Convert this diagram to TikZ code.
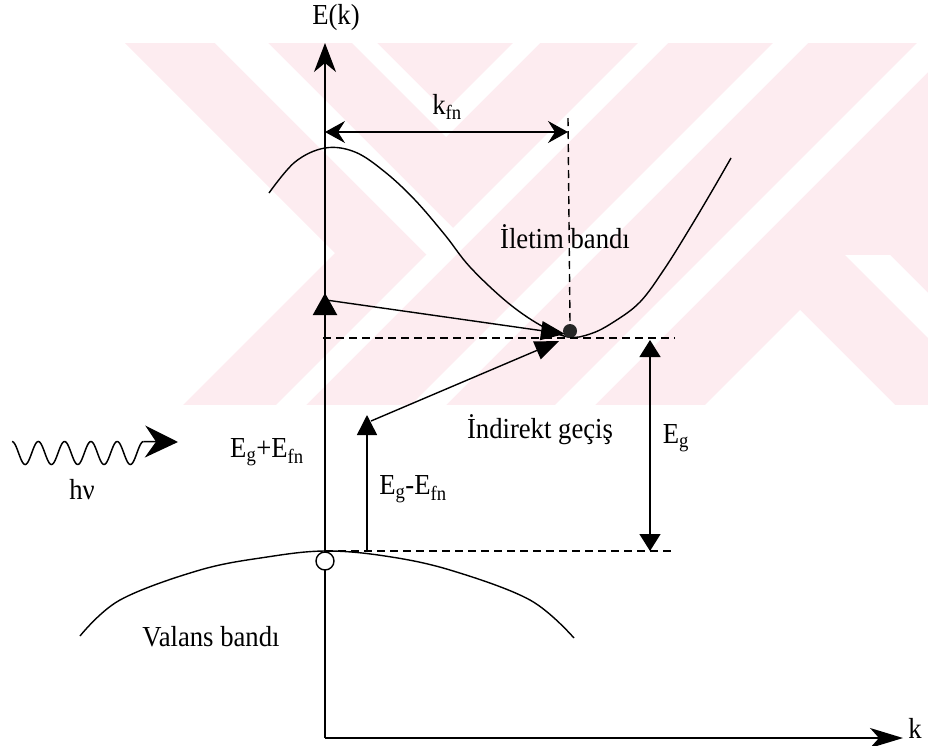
\documentclass[tikz,border=0pt]{standalone}
\usepackage{fontspec}
\setmainfont{Liberation Serif}[FakeStretch=0.92]
\usetikzlibrary{arrows.meta}
\definecolor{wm}{RGB}{253,236,240}
\begin{document}
\begin{tikzpicture}[x=1pt,y=-1pt,
  lbl/.style={font=\fontsize{29}{34}\selectfont, inner sep=0pt},
  ln/.style={line width=1.4pt},
  dashln/.style={line width=1.4pt, dash pattern=on 8pt off 5pt},
  bigtri/.style={-{Triangle[length=22pt,width=24pt]}},
  midtri/.style={-{Triangle[length=24pt,width=19pt]}},
  axtip/.style={-{Stealth[length=29pt,width=22pt,inset=9pt]}},
]
\useasboundingbox (0,0) rectangle (928,745);
% ---------- watermark ----------
\begin{scope}
\clip (125,43) -- (928,43) -- (928,405) -- (183,405) -- (335,253) -- cycle;
\fill[wm] (0,43) rectangle (928,405);
\fill[white] (215,43) -- (268,43) -- (453,228) -- (441.5,269.5) -- cycle;
\fill[white] (352,43) -- (377,43) -- (445,111) -- (513,43) -- (540,43) -- (446,137) -- cycle;
\fill[white] (638,43) -- (668,43) -- (306,405) -- (276,405) -- cycle;
\fill[white] (773,43) -- (808,43) -- (446,405) -- (411,405) -- cycle;
\fill[white] (917,43) -- (957,43) -- (595,405) -- (555,405) -- cycle;
\fill[white] (800,310) -- (895,405) -- (705,405) -- cycle;
\fill[white] (845,255) -- (890,255) -- (1040,405) -- (995,405) -- cycle;
\end{scope}
% ---------- coordinates ----------
\coordinate (O) at (325,738);
\coordinate (Etop) at (325,43);
\coordinate (kend) at (903,738);
\coordinate (kfa) at (325,132);
\coordinate (kfb) at (568,132);
\coordinate (kdash) at (568,118);
\coordinate (A1) at (325,293);
\coordinate (A1s) at (326,300);
\coordinate (D1) at (565,334);
\coordinate (B0) at (367,551);
\coordinate (B1) at (367,415);
\coordinate (B1s) at (371,421);
\coordinate (D2) at (559,341);
\coordinate (hl) at (323,338);
\coordinate (hr) at (675,338);
\coordinate (ll) at (325,551);
\coordinate (lr) at (675,551);
\coordinate (G1) at (650,551);
\coordinate (G2) at (650,340);
\coordinate (wend) at (143.5,441.5);
\coordinate (wtip) at (178,442);
% ---------- axes ----------
\draw[line width=1.5pt, axtip] (O) -- (Etop);
\draw[line width=1.5pt, -{Stealth[length=33pt,width=20pt,inset=9pt]}] (O) -- (kend);
\node[lbl] (Ek) at (336,18) {E(k)};
\node[lbl] (k) at (915,728) {k};
% ---------- k_fn ----------
\draw[line width=1.3pt, {Stealth[length=20pt,width=22pt,inset=7pt]}-{Stealth[length=20pt,width=22pt,inset=7pt]}] (kfa) -- (kfb);
\node[lbl] (kfn) at (447,107) {k\textsubscript{fn}};
% ---------- conduction band ----------
\draw[ln] plot[smooth, tension=0.6] coordinates {(269,193) (295,162) (325,148) (355,152) (385,172) (415,200) (445,235) (470,267) (507,302) (540,325) (568,337) (590,334) (612,323) (640,302) (665,268) (690,228) (712,191) (731,158)};
\node[lbl] (ilet) at (565,237) {İletim bandı};
% ---------- dashed guides ----------
\node[circle, fill=black!85, minimum size=14pt, inner sep=0pt] (dot) at (570,331) {};
\draw[dashln] (kdash) -- (dot.north);
\draw[dashln] (hl) -- (hr);
\draw[dashln] (ll) -- (lr);
% ---------- valence band ----------
\draw[ln] plot[smooth, tension=0.6] coordinates {(80,636) (120,600) (200,570) (267,557) (325,551) (385,556) (450,570) (530,600) (574,638)};
\node[lbl] (val) at (211,637) {Valans bandı};
% ---------- hole ----------
\node[circle, draw, line width=1.4pt, fill=white, minimum size=18pt, inner sep=0pt] (hole) at (325,561) {};
% ---------- transitions ----------
\draw[line width=2.2pt, bigtri] (hole.north) -- (A1);
\draw[ln, midtri] (A1s) -- (D1);
\draw[line width=1.5pt, -{Triangle[length=20pt,width=20pt]}] (B0) -- (B1);
\draw[ln, midtri] (B1s) -- (D2);
\node[lbl] (egp) at (267,452) {E\textsubscript{g}+E\textsubscript{fn}};
\node[lbl] (egm) at (413,489) {E\textsubscript{g}-E\textsubscript{fn}};
\node[lbl] (ind) at (540,430) {İndirekt geçiş};
% ---------- band gap ----------
\draw[ln, {Triangle[length=17pt,width=21pt]}-{Triangle[length=17pt,width=21pt]}] (G1) -- (G2);
\node[lbl] (eg) at (676,438) {E\textsubscript{g}};
% ---------- photon ----------
\draw[line width=1.5pt] plot[domain=0:5, samples=160, smooth] ({12+26.3*\x},{453-11.5*cos(360*\x)}) -- (wend);
\draw[line width=1.5pt, -{Stealth[length=33pt,width=32pt,inset=11pt]}] (wend) -- (wtip);
\node[lbl] (hv) at (82,490) {hν};
\end{tikzpicture}
\end{document}
